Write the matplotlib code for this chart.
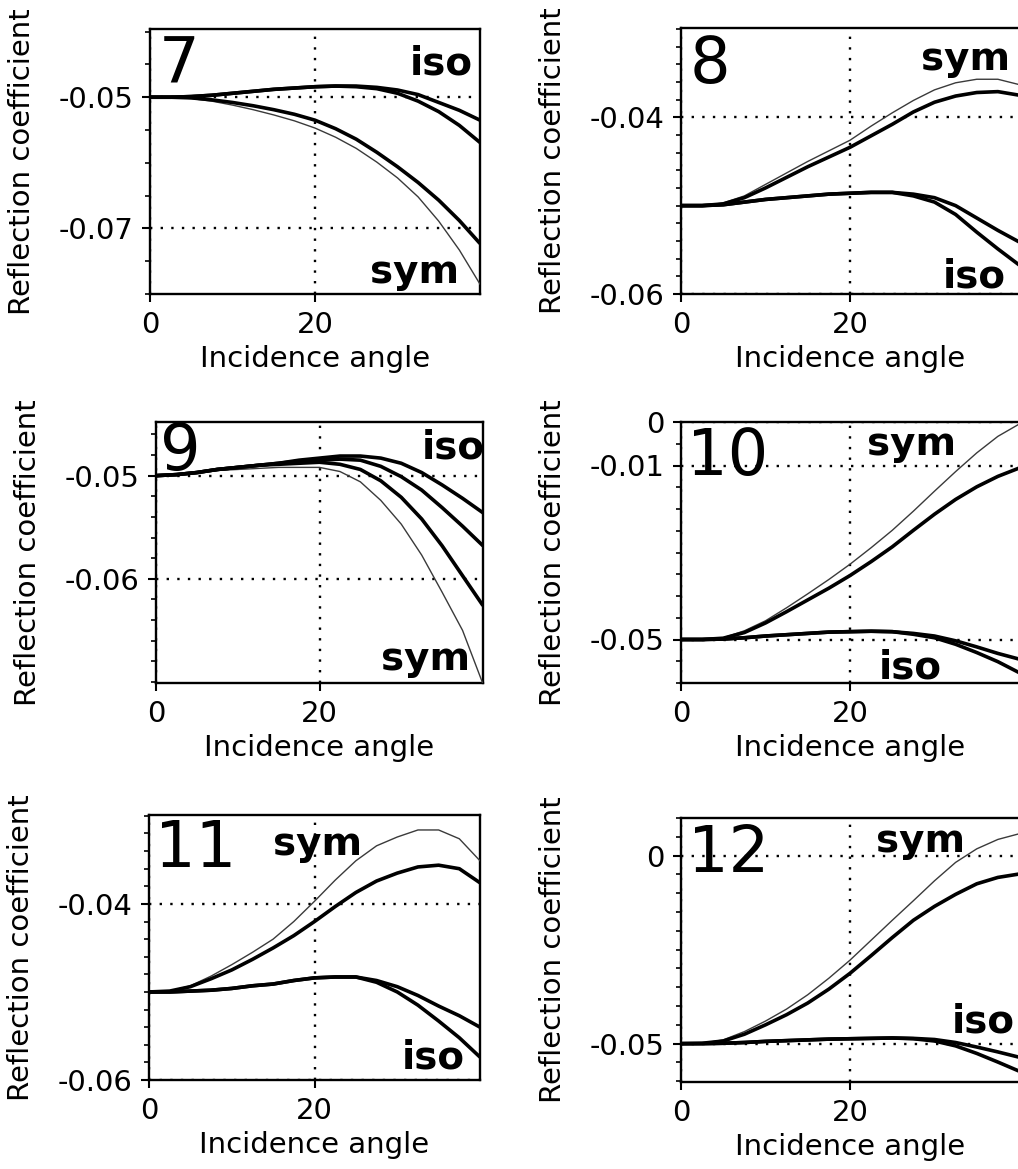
import matplotlib
matplotlib.use("Agg")
import matplotlib.pyplot as plt
from matplotlib.ticker import MultipleLocator

plt.rcParams["font.family"] = ["DejaVu Sans"]
plt.rcParams["axes.unicode_minus"] = False

ANGLE = [0, 2.5, 5, 7.5, 10, 12.5, 15, 17.5, 20, 22.5, 25, 27.5, 30, 32.5, 35, 37.5, 40]

# panel 7
P7_ISO_A = [-0.0500, -0.0500, -0.0499, -0.0497, -0.0494, -0.0491, -0.0488, -0.0486, -0.0484,
            -0.0483, -0.0483, -0.0485, -0.0489, -0.0496, -0.0508, -0.0520, -0.0535]
P7_ISO_B = [-0.0500, -0.0500, -0.0499, -0.0497, -0.0494, -0.0491, -0.0488, -0.0486, -0.0484,
            -0.0483, -0.0484, -0.0487, -0.0494, -0.0506, -0.0522, -0.0543, -0.0569]
P7_SYM_THICK = [-0.0500, -0.0500, -0.0501, -0.0504, -0.0508, -0.0513, -0.0519, -0.0526, -0.0535,
                -0.0548, -0.0564, -0.0584, -0.0606, -0.0630, -0.0657, -0.0688, -0.0723]
P7_SYM_THIN = [-0.0500, -0.0500, -0.0502, -0.0506, -0.0512, -0.0519, -0.0527, -0.0536, -0.0547,
               -0.0561, -0.0578, -0.0599, -0.0623, -0.0652, -0.0689, -0.0733, -0.0785]

# panel 8
P8_ISO_A = [-0.0500, -0.0500, -0.0499, -0.0496, -0.0493, -0.0491, -0.0489, -0.0487, -0.0486,
            -0.0485, -0.0485, -0.0487, -0.0491, -0.0500, -0.0514, -0.0528, -0.0541]
P8_ISO_B = [-0.0500, -0.0500, -0.0499, -0.0496, -0.0493, -0.0491, -0.0489, -0.0487, -0.0486,
            -0.0485, -0.0485, -0.0489, -0.0496, -0.0510, -0.0530, -0.0549, -0.0567]
P8_SYM_THICK = [-0.0500, -0.0500, -0.0498, -0.0491, -0.0480, -0.0468, -0.0456, -0.0445, -0.0434,
                -0.0421, -0.0408, -0.0394, -0.0383, -0.0376, -0.0372, -0.0371, -0.0375]
P8_SYM_THIN = [-0.0500, -0.0500, -0.0497, -0.0489, -0.0476, -0.0463, -0.0450, -0.0438, -0.0426,
               -0.0410, -0.0395, -0.0381, -0.0369, -0.0361, -0.0357, -0.0357, -0.0363]

# panel 9
P9_ISO_A = [-0.0500, -0.0499, -0.0497, -0.0494, -0.0492, -0.0490, -0.0488, -0.0485, -0.0483,
            -0.0481, -0.0481, -0.0483, -0.0488, -0.0497, -0.0509, -0.0522, -0.0536]
P9_ISO_B = [-0.0500, -0.0499, -0.0497, -0.0494, -0.0492, -0.0490, -0.0488, -0.0486, -0.0485,
            -0.0484, -0.0485, -0.0491, -0.0501, -0.0514, -0.0531, -0.0549, -0.0568]
P9_SYM_THICK = [-0.0500, -0.0499, -0.0497, -0.0494, -0.0492, -0.0490, -0.0489, -0.0488, -0.0487,
                -0.0489, -0.0494, -0.0505, -0.0521, -0.0542, -0.0568, -0.0597, -0.0626]
P9_SYM_THIN = [-0.0500, -0.0499, -0.0497, -0.0495, -0.0494, -0.0493, -0.0492, -0.0492, -0.0492,
               -0.0496, -0.0506, -0.0524, -0.0547, -0.0577, -0.0613, -0.0650, -0.0702]

# panel 10
P10_ISO_A = [-0.0500, -0.0500, -0.0499, -0.0496, -0.0492, -0.0489, -0.0486, -0.0483, -0.0482,
             -0.0481, -0.0482, -0.0486, -0.0492, -0.0503, -0.0517, -0.0532, -0.0545]
P10_ISO_B = [-0.0500, -0.0500, -0.0499, -0.0496, -0.0492, -0.0489, -0.0486, -0.0483, -0.0482,
             -0.0481, -0.0482, -0.0488, -0.0496, -0.0511, -0.0530, -0.0551, -0.0576]
P10_SYM_THICK = [-0.0500, -0.0500, -0.0497, -0.0484, -0.0462, -0.0436, -0.0409, -0.0382, -0.0353,
                 -0.0321, -0.0287, -0.0249, -0.0212, -0.0178, -0.0149, -0.0125, -0.0106]
P10_SYM_THIN = [-0.0500, -0.0500, -0.0496, -0.0480, -0.0457, -0.0427, -0.0395, -0.0362, -0.0327,
                -0.0289, -0.0249, -0.0205, -0.0159, -0.0114, -0.0071, -0.0033, -0.0005]

# panel 11
P11_ISO_A = [-0.0500, -0.0500, -0.0499, -0.0498, -0.0496, -0.0493, -0.0491, -0.0487, -0.0484,
             -0.0483, -0.0483, -0.0487, -0.0494, -0.0504, -0.0516, -0.0527, -0.0540]
P11_ISO_B = [-0.0500, -0.0500, -0.0499, -0.0498, -0.0496, -0.0493, -0.0491, -0.0487, -0.0484,
             -0.0483, -0.0483, -0.0489, -0.0500, -0.0515, -0.0533, -0.0552, -0.0574]
P11_SYM_THICK = [-0.0500, -0.0499, -0.0494, -0.0485, -0.0475, -0.0463, -0.0450, -0.0436, -0.0420,
                 -0.0403, -0.0387, -0.0374, -0.0365, -0.0358, -0.0356, -0.0360, -0.0376]
P11_SYM_THIN = [-0.0500, -0.0499, -0.0493, -0.0482, -0.0469, -0.0455, -0.0440, -0.0420, -0.0397,
                -0.0373, -0.0351, -0.0334, -0.0324, -0.0316, -0.0316, -0.0326, -0.0351]

# panel 12
P12_ISO_A = [-0.0500, -0.0500, -0.0499, -0.0497, -0.0494, -0.0492, -0.0490, -0.0488, -0.0487,
             -0.0486, -0.0485, -0.0486, -0.0489, -0.0497, -0.0509, -0.0522, -0.0536]
P12_ISO_B = [-0.0500, -0.0500, -0.0499, -0.0497, -0.0494, -0.0492, -0.0490, -0.0488, -0.0487,
             -0.0486, -0.0485, -0.0487, -0.0493, -0.0506, -0.0526, -0.0549, -0.0573]
P12_SYM_THICK = [-0.0500, -0.0499, -0.0493, -0.0475, -0.0450, -0.0423, -0.0392, -0.0355, -0.0313,
                 -0.0266, -0.0218, -0.0172, -0.0135, -0.0103, -0.0075, -0.0058, -0.0049]
P12_SYM_THIN = [-0.0500, -0.0499, -0.0490, -0.0468, -0.0440, -0.0408, -0.0370, -0.0326, -0.0278,
                -0.0225, -0.0172, -0.0120, -0.0067, -0.0018, 0.0018, 0.0043, 0.0058]

PANEL_IDS = [7, 8, 9, 10, 11, 12]
X_TICKS = [0, 20]
X_TICK_LABELS = ["0", "20"]
Y_TICKS = {7: [-0.05, -0.07], 8: [-0.04, -0.06], 9: [-0.05, -0.06],
           10: [0, -0.01, -0.05], 11: [-0.04, -0.06], 12: [0, -0.05]}
Y_TICK_LABELS = {7: ["-0.05", "-0.07"], 8: ["-0.04", "-0.06"], 9: ["-0.05", "-0.06"],
                 10: ["0", "-0.01", "-0.05"], 11: ["-0.04", "-0.06"], 12: ["0", "-0.05"]}
Y_LIMS = {7: (-0.080, -0.0396), 8: (-0.06, -0.0299), 9: (-0.0701, -0.0448),
          10: (-0.060, 0.0), 11: (-0.06, -0.0299), 12: (-0.0602, 0.0100)}
Y_MINOR = {7: 0.005, 8: 0.002, 9: 0.002, 10: 0.005, 11: 0.002, 12: 0.005}

CURVES = {
    7: (P7_ISO_A, P7_ISO_B, P7_SYM_THICK, P7_SYM_THIN),
    8: (P8_ISO_A, P8_ISO_B, P8_SYM_THICK, P8_SYM_THIN),
    9: (P9_ISO_A, P9_ISO_B, P9_SYM_THICK, P9_SYM_THIN),
    10: (P10_ISO_A, P10_ISO_B, P10_SYM_THICK, P10_SYM_THIN),
    11: (P11_ISO_A, P11_ISO_B, P11_SYM_THICK, P11_SYM_THIN),
    12: (P12_ISO_A, P12_ISO_B, P12_SYM_THICK, P12_SYM_THIN),
}

# layout: axes boxes in pixels (left, top, right, bottom)
W, H = 1018, 1169
RECTS = {7: (150, 29, 480, 294), 8: (681, 28, 1019, 294),
         9: (156, 422, 483, 683), 10: (681, 422, 1019, 683),
         11: (149, 815, 480, 1080), 12: (681, 818, 1019, 1082)}

# annotation placement in axes fractions: (x, y, ha)
NUM_POS = {7: (0.027, 0.796), 8: (0.026, 0.793), 9: (0.012, 0.816),
           10: (0.018, 0.797), 11: (0.018, 0.804), 12: (0.021, 0.795)}
ISO_POS = {7: (0.979, 0.83, "right"), 8: (0.962, 0.026, "right"), 9: (0.813, 0.862, "left"),
           10: (0.585, 0.019, "left"), 11: (0.955, 0.045, "right"), 12: (0.80, 0.186, "left")}
SYM_POS = {7: (0.936, 0.042, "right"), 8: (0.974, 0.842, "right"), 9: (0.96, 0.05, "right"),
           10: (0.55, 0.874, "left"), 11: (0.375, 0.849, "left"), 12: (0.576, 0.871, "left")}

fig = plt.figure(figsize=(W / 100, H / 100), dpi=100)

for num in PANEL_IDS:
    l, t, r, b = RECTS[num]
    wpx, hpx = r - l, b - t
    ax = fig.add_axes([l / W, (H - b) / H, wpx / W, hpx / H])

    iso_a, iso_b, sym_thick, sym_thin = CURVES[num]
    ax.plot(ANGLE, sym_thin, color="#3a3a3a", lw=1.0, zorder=3)
    for c in (iso_a, iso_b, sym_thick):
        ax.plot(ANGLE, c, color="black", lw=2.6, zorder=4, solid_capstyle="butt")

    ax.set_xlim(0, 40)
    ax.set_ylim(*Y_LIMS[num])
    ax.set_xticks(X_TICKS)
    ax.set_xticklabels(X_TICK_LABELS)
    ax.set_yticks(Y_TICKS[num])
    ax.set_yticklabels(Y_TICK_LABELS[num])
    ax.yaxis.set_minor_locator(MultipleLocator(Y_MINOR[num]))

    ax.grid(True, which="major", color="black", ls=(0, (1, 3.5)), lw=1.7)
    ax.tick_params(which="major", direction="out", length=6, width=1.5,
                   labelsize=21, pad=6, colors="black")
    ax.tick_params(which="minor", direction="out", length=3.5, width=1.2)
    for s in ax.spines.values():
        s.set_linewidth(1.7)

    ax.set_xlabel("Incidence angle", fontsize=21)
    ax.xaxis.set_label_coords(0.5, -65 / hpx)
    ax.xaxis.label.set_va("center")
    ax.set_ylabel("Reflection coefficient", fontsize=21)
    ax.yaxis.set_label_coords(-128 / wpx, 0.5)
    ax.yaxis.label.set_va("center")

    nx, ny = NUM_POS[num]
    ax.text(nx, ny, str(num), transform=ax.transAxes, fontsize=46,
            ha="left", va="baseline", zorder=6)
    ix, iy, iha = ISO_POS[num]
    ax.text(ix, iy, "iso", transform=ax.transAxes, fontsize=28, fontweight="bold",
            ha=iha, va="baseline", zorder=6, clip_on=True)
    sx, sy, sha = SYM_POS[num]
    ax.text(sx, sy, "sym", transform=ax.transAxes, fontsize=28, fontweight="bold",
            ha=sha, va="baseline", zorder=6, clip_on=True)

fig.savefig("out.png", dpi=100)
